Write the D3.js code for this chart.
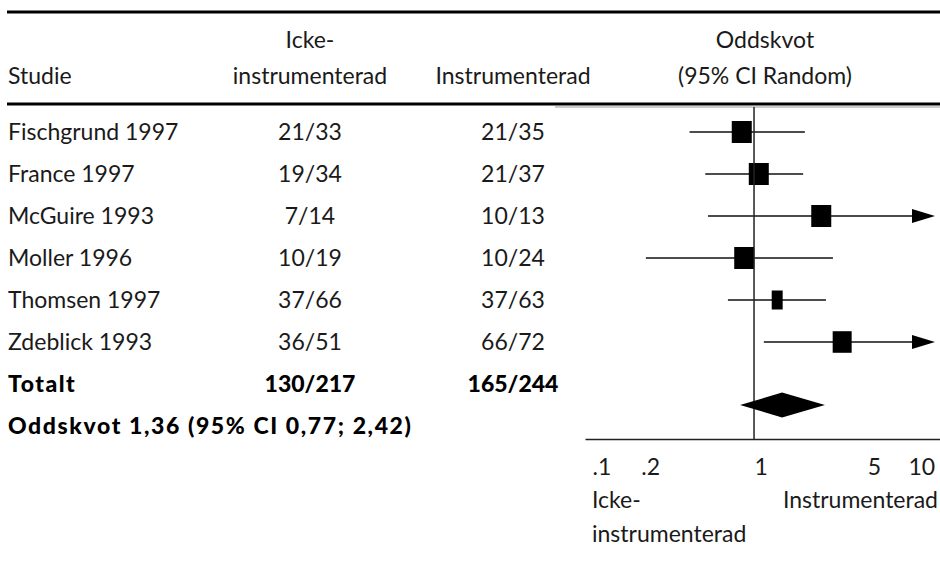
<!DOCTYPE html>
<html>
<head>
<meta charset="utf-8">
<script src="https://cdn.jsdelivr.net/npm/d3@7"></script>
<style>
  body { margin: 0; background: #fff; }
  svg text { font-family: "Lato", "Gill Sans", sans-serif; font-size: 23px; fill: #1a1a1a; }
  svg text.bold { font-weight: 900; fill: #000; }
</style>
</head>
<body>
<div id="chart"></div>
<script>
const width = 940;
const height = 565;

// studies and raw counts
const studies = ["Fischgrund 1997", "France 1997", "McGuire 1993", "Moller 1996", "Thomsen 1997", "Zdeblick 1993"];
const ctrlEvents = [21, 19, 7, 10, 37, 36];
const ctrlTotal = [33, 34, 14, 19, 66, 51];
const instEvents = [21, 21, 10, 10, 37, 66];
const instTotal = [35, 37, 13, 24, 63, 72];

// odds ratios (null = runs past the axis)
const oddsRatio = [0.84, 1.07, 2.6, 0.87, 1.39, 3.5];
const ciLow = [0.40, 0.50, 0.52, 0.215, 0.69, 1.15];
const ciHigh = [2.06, 2.01, null, 3.07, 2.78, null];
const weights = [20, 20, 20, 20, 6, 18];

// pooled estimate: as drawn, and as stated in the label
const pooledDrawn = [0.82, 1.49, 2.74];
const pooledStated = [1.36, 0.77, 2.42];

const tickValues = [0.1, 0.2, 1, 5, 10];
const tickLabels = [".1", ".2", "1", "5", "10"];

const svg = d3.select("#chart").append("svg")
    .attr("width", width)
    .attr("height", height);

// row positions: 6 studies, total, pooled label
const rowY = d3.scaleLinear().domain([0, 7]).range([132, 426]);

const x = d3.scaleLog()
    .domain([0.0905, 14.06])
    .range([585, 940]);

const colStudy = 8;
const colCtrl = 310;
const colInst = 513;
const colPlot = 765;
const plotTop = 107;
const axisY = 439;

// header rules
svg.append("line").attr("x1", 7).attr("x2", width).attr("y1", 12).attr("y2", 12)
    .attr("stroke", "#000").attr("stroke-width", 3);
svg.append("line").attr("x1", 7).attr("x2", width).attr("y1", 104).attr("y2", 104)
    .attr("stroke", "#000").attr("stroke-width", 3);
svg.append("line").attr("x1", 555).attr("x2", width).attr("y1", plotTop).attr("y2", plotTop)
    .attr("stroke", "#999").attr("stroke-width", 1);

// header text
const header = [
    { t: "Icke-", x: colCtrl, y: 48, a: "middle" },
    { t: "Studie", x: colStudy, y: 84, a: "start" },
    { t: "instrumenterad", x: colCtrl, y: 84, a: "middle" },
    { t: "Instrumenterad", x: colInst, y: 84, a: "middle" },
    { t: "Oddskvot", x: colPlot, y: 48, a: "middle" },
    { t: "(95% CI Random)", x: colPlot, y: 84, a: "middle" }
];
svg.selectAll("text.header")
    .data(header)
    .join("text")
    .attr("class", "header")
    .attr("x", d => d.x)
    .attr("y", d => d.y)
    .attr("text-anchor", d => d.a)
    .text(d => d.t);

// table rows
const rows = studies.map((s, i) => ({
    study: s,
    ctrl: `${ctrlEvents[i]}/${ctrlTotal[i]}`,
    inst: `${instEvents[i]}/${instTotal[i]}`,
    or: oddsRatio[i], lo: ciLow[i], hi: ciHigh[i], w: weights[i], i: i
}));

const rowG = svg.selectAll("g.row")
    .data(rows)
    .join("g")
    .attr("class", "row")
    .attr("transform", d => `translate(0,${rowY(d.i)})`);

rowG.append("text").attr("x", colStudy).attr("dy", "0.35em").text(d => d.study);
rowG.append("text").attr("x", colCtrl).attr("dy", "0.35em").attr("text-anchor", "middle").text(d => d.ctrl);
rowG.append("text").attr("x", colInst).attr("dy", "0.35em").attr("text-anchor", "middle").text(d => d.inst);

// totals
const totalG = svg.append("g").attr("transform", `translate(0,${rowY(6)})`);
totalG.append("text").attr("class", "bold").attr("x", colStudy).attr("dy", "0.35em")
    .style("letter-spacing", "1.5px").text("Totalt");
totalG.append("text").attr("class", "bold").attr("x", colCtrl).attr("dy", "0.35em").attr("text-anchor", "middle")
    .text(`${d3.sum(ctrlEvents)}/${d3.sum(ctrlTotal)}`);
totalG.append("text").attr("class", "bold").attr("x", colInst).attr("dy", "0.35em").attr("text-anchor", "middle")
    .text(`${d3.sum(instEvents)}/${d3.sum(instTotal)}`);

const fmt = v => d3.format(".2f")(v).replace(".", ",");
svg.append("text")
    .attr("class", "bold")
    .attr("x", colStudy)
    .attr("y", rowY(7))
    .attr("dy", "0.35em")
    .style("letter-spacing", "1.6px")
    .text(`Oddskvot ${fmt(pooledStated[0])} (95% CI ${fmt(pooledStated[1])}; ${fmt(pooledStated[2])})`);

// reference line at OR = 1
svg.append("line")
    .attr("x1", x(1)).attr("x2", x(1))
    .attr("y1", plotTop).attr("y2", axisY)
    .attr("stroke", "#222").attr("stroke-width", 1.5);

// CI lines and arrows
const xEnd = x.range()[1] - 5;
const arrowLen = 23;
rowG.append("line")
    .attr("x1", d => x(d.lo))
    .attr("x2", d => d.hi === null ? xEnd - arrowLen : x(d.hi))
    .attr("y1", 0).attr("y2", 0)
    .attr("stroke", "#111").attr("stroke-width", 1.5);

rowG.filter(d => d.hi === null)
    .append("path")
    .attr("d", `M${xEnd - arrowLen},-7L${xEnd},0L${xEnd - arrowLen},7Z`)
    .attr("fill", "#000");

// weight boxes
const boxW = d3.scaleSqrt().domain([0, 20]).range([0, 20]);
const boxH = d3.scaleLinear().domain([6, 20]).range([19, 22]);
rowG.append("rect")
    .attr("x", d => x(d.or) - boxW(d.w) / 2)
    .attr("y", d => -boxH(d.w) / 2)
    .attr("width", d => boxW(d.w))
    .attr("height", d => boxH(d.w))
    .attr("fill", "#000");

// pooled diamond
const dy = rowY(6.5);
svg.append("path")
    .attr("d", `M${x(pooledDrawn[0])},${dy}L${x(pooledDrawn[1])},${dy - 12.5}L${x(pooledDrawn[2])},${dy}L${x(pooledDrawn[1])},${dy + 12.5}Z`)
    .attr("fill", "#000");

// x axis
const axis = svg.append("g")
    .attr("transform", `translate(0,${axisY})`)
    .call(d3.axisBottom(x)
        .tickValues(tickValues)
        .tickFormat((d, i) => tickLabels[i])
        .tickSize(0)
        .tickPadding(20));
axis.select(".domain").attr("stroke", "#222").attr("stroke-width", 1.5);
axis.selectAll(".tick text")
    .attr("text-anchor", "start")
    .attr("dx", (d, i) => i === tickValues.length - 1 ? -8 : 0)
    .style("font-family", "Lato, sans-serif")
    .style("font-size", "23px")
    .attr("fill", "#1a1a1a");

// direction labels
svg.append("text").attr("x", 592).attr("y", 508).text("Icke-");
svg.append("text").attr("x", 592).attr("y", 542).text("instrumenterad");
svg.append("text").attr("x", 938).attr("y", 508).attr("text-anchor", "end").text("Instrumenterad");
</script>
</body>
</html>
